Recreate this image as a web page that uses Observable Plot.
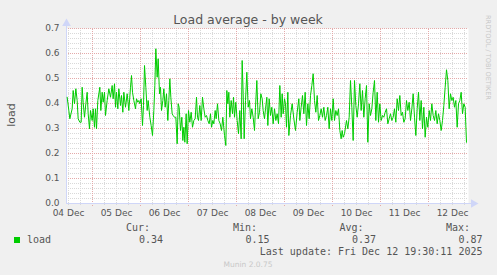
<!DOCTYPE html>
<html><head><meta charset="utf-8">
<script src="https://cdn.jsdelivr.net/npm/d3@7"></script>
<script src="https://cdn.jsdelivr.net/npm/@observablehq/plot@0.6"></script>
<style>
body{margin:0;background:#F0F0F0;}
#wrap{position:relative;width:497px;height:275px;overflow:hidden;}
svg text{font-family:"DejaVu Sans";}
</style></head><body><div id="wrap"></div>
<script>
// hours after 2025-12-05 00:00 UTC
const hours = [-12.67,-11.83,-11.33,-10.17,-9.67,-9.0,-8.33,-7.67,-7.17,-6.33,-5.67,-5.17,-4.67,-4.0,-3.33,-2.67,-2.17,-1.5,-1.0,-0.17,0.33,1.0,1.5,2.0,2.67,3.67,4.17,4.83,5.33,6.0,6.5,7.33,8.17,9.0,9.83,10.33,11.0,11.5,12.0,12.67,13.17,14.0,14.5,15.17,15.67,16.5,17.33,18.17,19.0,19.5,20.0,20.67,21.5,22.0,22.67,23.17,23.67,24.33,25.0,25.5,26.0,26.67,27.33,27.83,28.67,29.33,30.0,30.67,31.17,31.67,32.33,32.83,33.5,34.0,34.5,35.17,35.67,36.33,37.0,37.67,38.17,38.67,39.17,39.83,40.33,41.0,41.67,42.33,42.83,43.33,44.0,44.67,45.17,45.67,46.17,46.83,47.33,48.0,48.67,49.33,50.0,50.67,51.33,52.0,52.5,53.0,53.67,54.33,55.0,55.67,56.33,57.0,57.67,58.33,59.0,59.5,60.17,60.67,61.33,61.83,62.5,63.17,63.83,64.5,65.17,66.0,66.67,67.17,67.67,68.17,68.67,69.33,70.0,70.5,71.0,71.67,72.33,73.0,73.67,74.33,74.83,75.33,75.83,76.5,77.17,77.83,78.5,79.0,79.67,80.33,81.0,81.5,82.17,82.83,83.5,84.17,84.83,85.33,86.0,86.5,87.17,87.67,88.33,89.0,89.67,90.33,91.0,91.67,92.33,93.0,93.67,94.33,94.83,95.33,96.0,96.5,97.0,97.67,98.17,99.0,99.83,100.67,101.5,102.33,103.17,103.67,104.33,105.0,105.67,106.33,107.0,107.67,108.33,109.0,109.67,110.33,111.0,111.67,112.33,113.0,113.67,114.33,115.0,115.67,116.33,117.0,117.67,118.33,119.0,119.67,120.33,121.0,121.67,122.33,123.0,123.67,124.33,124.83,125.33,126.0,127.0,127.67,128.33,129.0,129.67,130.33,131.0,131.67,132.33,133.0,133.67,134.33,135.0,135.67,136.33,137.0,137.67,138.33,139.0,139.67,140.33,141.0,141.67,142.33,143.0,143.67,144.33,145.0,145.67,146.33,147.0,147.67,148.33,149.0,149.67,150.33,151.0,151.67,152.33,153.0,153.67,154.33,155.0,155.67,156.33,157.0,157.67,158.33,159.0,159.67,160.33,161.0,161.67,162.33,163.0,163.67,164.33,165.0,165.67,166.33,167.0,167.67,168.33,169.0,169.67,170.33,171.0,171.67,172.33,173.0,173.67,174.33,175.0,175.67,176.33,177.0,177.67,178.33,179.0,179.67,180.33,181.0,181.67,182.33,183.0,183.67,184.33,185.0,185.67,186.33,187.0];
const load = [0.425,0.372,0.339,0.379,0.452,0.399,0.459,0.412,0.339,0.325,0.325,0.465,0.405,0.345,0.399,0.445,0.359,0.299,0.372,0.332,0.379,0.305,0.379,0.299,0.412,0.465,0.372,0.445,0.405,0.445,0.352,0.412,0.459,0.425,0.472,0.419,0.479,0.385,0.445,0.379,0.459,0.392,0.432,0.365,0.445,0.385,0.439,0.372,0.465,0.512,0.445,0.412,0.379,0.419,0.405,0.412,0.399,0.419,0.312,0.392,0.552,0.465,0.372,0.412,0.345,0.312,0.272,0.372,0.472,0.619,0.505,0.579,0.439,0.465,0.372,0.412,0.459,0.385,0.439,0.332,0.412,0.499,0.425,0.359,0.352,0.345,0.345,0.239,0.399,0.385,0.292,0.345,0.252,0.305,0.245,0.359,0.239,0.372,0.325,0.365,0.305,0.332,0.339,0.425,0.345,0.332,0.392,0.332,0.425,0.379,0.345,0.352,0.332,0.319,0.359,0.305,0.332,0.319,0.372,0.339,0.399,0.332,0.319,0.292,0.345,0.272,0.232,0.452,0.399,0.445,0.345,0.412,0.359,0.425,0.345,0.405,0.332,0.279,0.372,0.259,0.572,0.439,0.259,0.412,0.525,0.385,0.412,0.339,0.379,0.345,0.292,0.385,0.492,0.339,0.365,0.439,0.419,0.372,0.339,0.379,0.425,0.312,0.419,0.352,0.385,0.319,0.379,0.332,0.359,0.319,0.472,0.345,0.439,0.359,0.419,0.399,0.305,0.445,0.272,0.352,0.399,0.339,0.292,0.365,0.419,0.332,0.385,0.432,0.359,0.445,0.312,0.399,0.339,0.432,0.472,0.519,0.412,0.365,0.432,0.332,0.352,0.379,0.345,0.385,0.332,0.352,0.385,0.299,0.379,0.332,0.419,0.332,0.372,0.352,0.379,0.292,0.259,0.292,0.265,0.279,0.332,0.299,0.345,0.492,0.385,0.252,0.492,0.392,0.345,0.399,0.479,0.372,0.452,0.345,0.419,0.472,0.245,0.399,0.352,0.379,0.445,0.492,0.332,0.445,0.325,0.399,0.332,0.352,0.345,0.365,0.379,0.319,0.339,0.359,0.332,0.345,0.379,0.325,0.419,0.372,0.432,0.352,0.365,0.325,0.339,0.412,0.372,0.405,0.332,0.379,0.439,0.345,0.272,0.379,0.445,0.332,0.412,0.299,0.385,0.265,0.345,0.305,0.372,0.332,0.399,0.352,0.332,0.372,0.319,0.359,0.332,0.292,0.332,0.392,0.465,0.535,0.492,0.379,0.439,0.412,0.425,0.385,0.412,0.305,0.399,0.412,0.445,0.359,0.399,0.385,0.245];

const yMajor = [0, 0.1, 0.2, 0.3, 0.4, 0.5, 0.6, 0.7];
const yMinor = [0.02,0.04,0.06,0.08,0.12,0.14,0.16,0.18,0.22,0.24,0.26,0.28,0.32,0.34,0.36,0.38,0.42,0.44,0.46,0.48,0.52,0.54,0.56,0.58,0.62,0.64,0.66,0.68];
const dayLabelHours = [-12, 12, 36, 60, 84, 108, 132, 156, 180]; // noon of 04..12 Dec
const legendHeads = ["Cur:", "Min:", "Avg:", "Max:"];
const legendValues = ["0.34", "0.15", "0.37", "0.87"];
const seriesName = "load";
const lastUpdate = "Last update: Fri Dec 12 19:30:11 2025";

const t0 = Date.UTC(2025, 11, 5);
const H = 3600e3;
const toDate = h => new Date(t0 + h * H);
const data = hours.map((h, i) => ({t: toDate(h), v: load[i]}));
const xStart = toDate(-13), xEnd = toDate(188);
const xMajor = d3.range(0, 188, 24).map(toDate);
const xMinor = d3.range(-12, 188, 6).filter(h => h % 24 !== 0).map(toDate);

const AX = "#CFD6F8", GRID = "#d9d9d9", MGRID = "#e4aaaa";

const svg = Plot.plot({
  width: 497, height: 275,
  marginLeft: 66, marginRight: 29, marginTop: 28, marginBottom: 72,
  x: {type: "utc", domain: [xStart, xEnd]},
  y: {domain: [0, 0.7]},
  style: {background: "transparent", color: "#555", fontFamily: "DejaVu Sans"},
  marks: [
    Plot.frame({fill: "white", stroke: null}),
    Plot.ruleY(yMinor, {stroke: GRID, strokeDasharray: "1,1"}),
    Plot.ruleX(xMinor, {stroke: GRID, strokeDasharray: "1,1", y1: -0.008, y2: 0.7}),
    Plot.ruleY(yMajor.slice(1), {stroke: MGRID, strokeDasharray: "1,1"}),
    Plot.ruleX(xMajor, {stroke: MGRID, strokeDasharray: "1,1", y1: -0.012, y2: 0.7}),
    Plot.ruleY([0], {x1: xStart, x2: toDate(191), stroke: AX}),
    Plot.ruleX([xStart], {y1: 0, y2: 0.715, stroke: AX}),
    Plot.dot([{x: xStart, y: 0.7}], {x: "x", y: "y", dy: -5, symbol: "triangle", r: 3.2, fill: AX, stroke: null}),
    Plot.dot([{x: xEnd, y: 0}], {x: "x", y: "y", dx: 5, symbol: "triangle", rotate: 90, r: 3.2, fill: AX, stroke: null}),
    Plot.line(data, {x: "t", y: "v", stroke: "#00CC00", strokeWidth: 1}),
    Plot.axisY({ticks: yMajor, tickFormat: d3.format(".1f"), tickSize: 0, tickPadding: 7, fontSize: 9, label: null}),
    Plot.axisX({ticks: dayLabelHours.map(toDate), tickFormat: d3.utcFormat("%d %b"), tickSize: 0, tickPadding: 6, fontSize: 9, label: null})
  ]
});
document.getElementById("wrap").appendChild(svg);

const s = d3.select(svg);
s.append("text").attr("x", 248).attr("y", 24).attr("text-anchor", "middle")
  .attr("font-size", 12.5).attr("fill", "#555").text("Load average - by week");
s.append("text").attr("transform", "translate(14.5,115) rotate(-90)").attr("text-anchor", "middle")
  .attr("font-size", 11).attr("fill", "#555").text("load");
s.append("text").attr("transform", "translate(486,15) rotate(90)").attr("text-anchor", "start")
  .attr("font-size", 6.6).attr("fill", "#c8c8c8").text("RRDTOOL / TOBI OETIKER");
s.append("rect").attr("x", 14).attr("y", 237).attr("width", 6).attr("height", 6).attr("fill", "#00CC00");
const mono = (x, y, txt, anchor) => s.append("text").attr("x", x).attr("y", y)
  .attr("text-anchor", anchor).attr("font-size", 10).attr("fill", "#555")
  .style("font-family", "DejaVu Sans Mono").text(txt);
mono(27, 243, seriesName, "start");
const headX = [150, 257, 363.5, 470];
const valX = [163, 269.5, 376, 482.5];
legendHeads.forEach((h, i) => mono(headX[i], 231, h, "end"));
legendValues.forEach((v, i) => mono(valX[i], 243, v, "end"));
mono(482.5, 255, lastUpdate, "end");
s.append("text").attr("x", 248).attr("y", 267).attr("text-anchor", "middle")
  .attr("font-size", 7.5).attr("fill", "#c8c8c8").text("Munin 2.0.75");
</script></body></html>
